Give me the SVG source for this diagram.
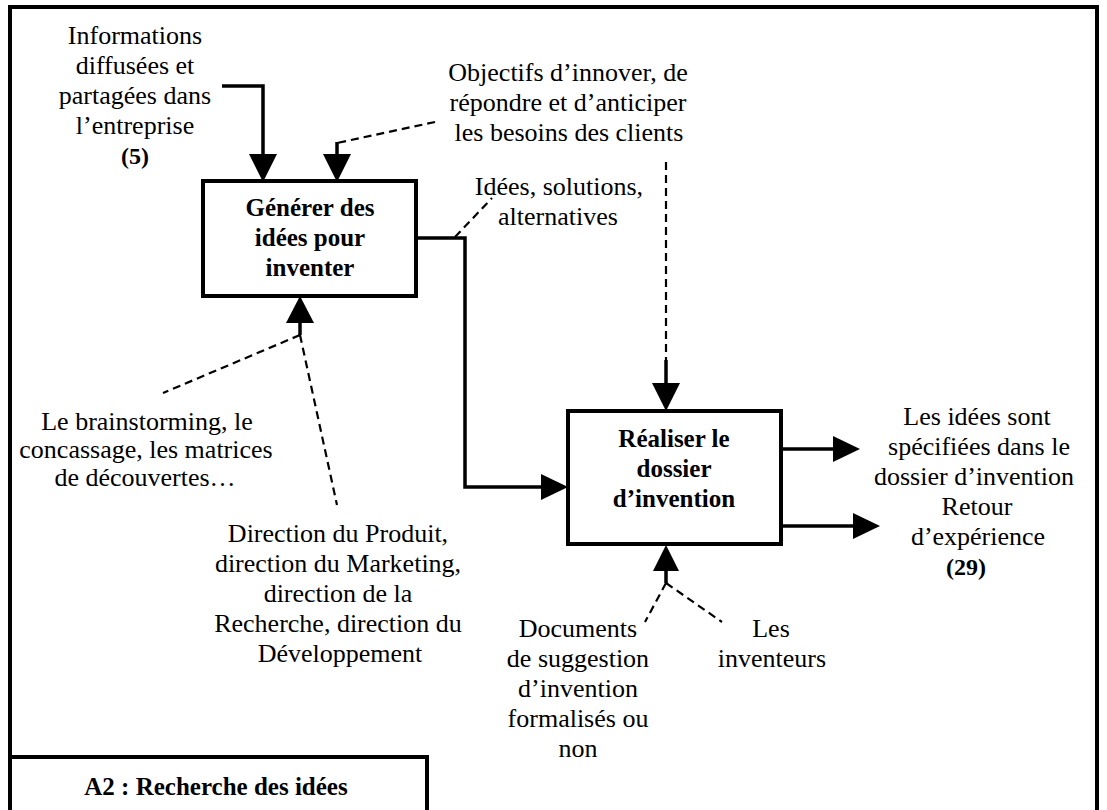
<svg xmlns="http://www.w3.org/2000/svg" width="1107" height="810" viewBox="0 0 1107 810">
<style>
text{font-family:'Liberation Serif','Times New Roman',Times,'DejaVu Serif',serif;fill:#000;text-anchor:middle}
.t{font-size:26px}
.b{font-size:25px;font-weight:bold}
.s{fill:none;stroke:#000;stroke-width:3.5}
.d{fill:none;stroke:#000;stroke-width:2.2;stroke-dasharray:8 5}
.box{fill:#fff;stroke:#000;stroke-width:4}
.ah{fill:#000}
</style>
<rect width="1107" height="810" fill="#fff"/>
<g id="frame">
<path d="M10,812 V7 H1097 V812" fill="none" stroke="#000" stroke-width="4"/>
<path d="M10,757 H427 V812" fill="none" stroke="#000" stroke-width="4"/>
<text class="b" x="216" y="795" font-family="Liberation Serif, serif">A2 : Recherche des idées</text>
</g>
<g id="connectors">
<path class="s" d="M222,86 H263 V156"/>
<polygon class="ah" points="249,154 277,154 263,182"/>
<path class="d" d="M435,122 L337,143"/>
<path class="s" d="M337,142 V156"/>
<polygon class="ah" points="323,154 351,154 337,182"/>
<path class="s" d="M416,238 H465 V487 H543"/>
<polygon class="ah" points="541,474 541,500 568,487"/>
<path class="d" d="M455,237 L492,198"/>
<path class="d" d="M666,162 V360"/>
<path class="s" d="M666,360 V385"/>
<polygon class="ah" points="652,383 680,383 666,411"/>
<polygon class="ah" points="286,323 314,323 300,296"/>
<path class="s" d="M300,321 V335"/>
<path class="d" d="M300,335 L163,393"/>
<path class="d" d="M300,335 L337,505"/>
<path class="s" d="M781,449 H835"/>
<polygon class="ah" points="833,436 833,462 860,449"/>
<path class="s" d="M781,526 H855"/>
<polygon class="ah" points="853,513 853,539 880,526"/>
<polygon class="ah" points="653,571 679,571 666,545"/>
<path class="s" d="M666,569 V583"/>
<path class="d" d="M666,583 L645,622"/>
<path class="d" d="M666,583 L722,622"/>
</g>
<g id="node-generer" font-family="Liberation Serif, serif">
<rect class="box" x="203" y="181" width="213" height="115"/>
<text class="b" x="310" y="216">Générer des</text>
<text class="b" x="310" y="246">idées pour</text>
<text class="b" x="310" y="276">inventer</text>
</g>
<g id="node-realiser" font-family="Liberation Serif, serif">
<rect class="box" x="568" y="411" width="213" height="133"/>
<text class="b" x="674" y="447">Réaliser le</text>
<text class="b" x="674" y="477">dossier</text>
<text class="b" x="674" y="507">d’invention</text>
</g>
<g id="label-informations" font-family="Liberation Serif, serif">
<text class="t" x="135" y="44">Informations</text>
<text class="t" x="135" y="74">diffusées et</text>
<text class="t" x="135" y="104">partagées dans</text>
<text class="t" x="135" y="134">l’entreprise</text>
<text class="b" x="135" y="164" style="font-size:24px">(5)</text>
</g>
<g id="label-objectifs" font-family="Liberation Serif, serif">
<text class="t" x="568" y="81">Objectifs d’innover, de</text>
<text class="t" x="568" y="111">répondre et d’anticiper</text>
<text class="t" x="569" y="141">les besoins des clients</text>
</g>
<g id="label-idees" font-family="Liberation Serif, serif">
<text class="t" x="559" y="195">Idées, solutions,</text>
<text class="t" x="558" y="225">alternatives</text>
</g>
<g id="label-brainstorming" font-family="Liberation Serif, serif">
<text class="t" x="147" y="430">Le brainstorming, le</text>
<text class="t" x="146" y="458">concassage, les matrices</text>
<text class="t" x="145" y="486">de découvertes…</text>
</g>
<g id="label-direction" font-family="Liberation Serif, serif">
<text class="t" x="338" y="542">Direction du Produit,</text>
<text class="t" x="338" y="572">direction du Marketing,</text>
<text class="t" x="338" y="602">direction de la</text>
<text class="t" x="338" y="632">Recherche, direction du</text>
<text class="t" x="340" y="662">Développement</text>
</g>
<g id="label-documents" font-family="Liberation Serif, serif">
<text class="t" x="578" y="637">Documents</text>
<text class="t" x="578" y="667">de suggestion</text>
<text class="t" x="578" y="697">d’invention</text>
<text class="t" x="578" y="727">formalisés ou</text>
<text class="t" x="578" y="757">non</text>
</g>
<g id="label-inventeurs" font-family="Liberation Serif, serif">
<text class="t" x="771" y="637">Les</text>
<text class="t" x="772" y="667">inventeurs</text>
</g>
<g id="label-specifiees" font-family="Liberation Serif, serif">
<text class="t" x="977" y="425">Les idées sont</text>
<text class="t" x="979" y="455">spécifiées dans le</text>
<text class="t" x="974" y="485">dossier d’invention</text>
</g>
<g id="label-retour" font-family="Liberation Serif, serif">
<text class="t" x="977" y="515">Retour</text>
<text class="t" x="978" y="545">d’expérience</text>
<text class="b" x="966" y="575" style="font-size:24px">(29)</text>
</g>
</svg>
